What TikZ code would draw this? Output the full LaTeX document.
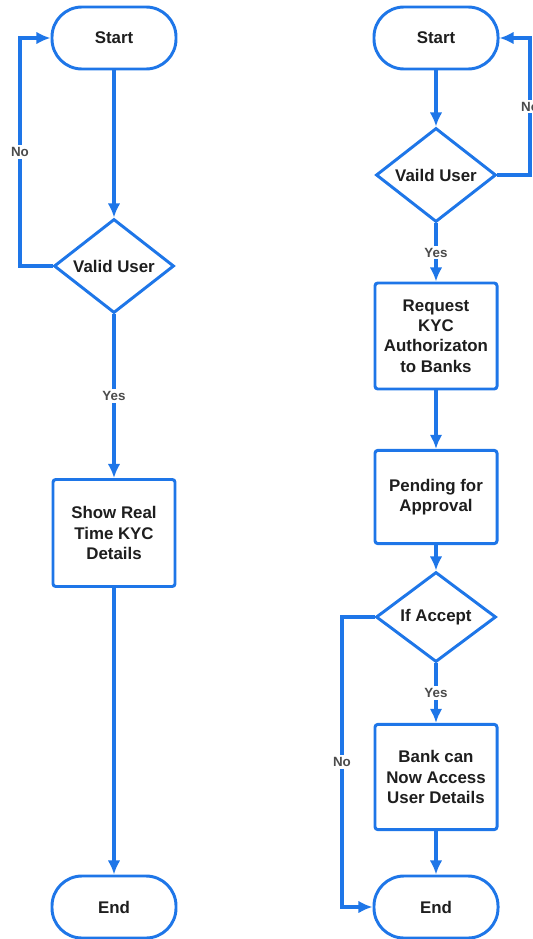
\documentclass[tikz,border=0pt]{standalone}
\usepackage{fontspec}
\setmainfont{Liberation Sans}
\usetikzlibrary{shapes.geometric, arrows.meta}
\definecolor{flowblue}{RGB}{30,118,232}
\definecolor{flowtext}{RGB}{30,30,30}
\begin{document}
\begin{tikzpicture}[x=0.025cm, y=-0.025cm,
    every node/.style={font=\bfseries\fontsize{12}{14.5}\selectfont, text=flowtext, align=center},
    term/.style={draw=flowblue, line width=2.1pt, fill=white, rectangle, rounded corners=7.5mm,
      minimum width=3.1cm, minimum height=1.55cm},
    decide/.style={draw=flowblue, line width=2.1pt, fill=white, diamond, inner sep=0pt,
      minimum width=3cm, minimum height=2.25cm},
    proc/.style={draw=flowblue, line width=2.1pt, fill=white, rectangle, rounded corners=2pt,
      minimum width=3.05cm},
    lbl/.style={font=\bfseries\fontsize{9.5}{11}\selectfont, text=flowtext!80, fill=white, inner sep=1.5pt},
    flow/.style={->, >={Latex[length=10pt, width=9pt]}, draw=flowblue, line width=2.2pt}]
  \useasboundingbox (0,0) rectangle (532,939);

  % first chart
  \node[term] (l_0) at (114,38) {Start};
  \node[decide] (l_1) at (114,266) {Valid User};
  \node[proc, minimum height=2.675cm] (l_2) at (114,533) {Show Real\\Time KYC\\Details};
  \node[term] (l_3) at (114,907) {End};
  \coordinate (l_no) at (20,266);
  \draw[flow] (l_0) -- (l_1);
  \draw[flow] (l_1) -- node[lbl] {Yes} (l_2);
  \draw[flow] (l_2) -- (l_3);
  \draw[flow] (l_1.west) -- (l_no) |- node[lbl, pos=0.25] {No} (l_0.west);

  % second chart
  \node[term] (r_0) at (436,38) {Start};
  \node[decide] (r_1) at (436,175) {Vaild User};
  \node[proc, minimum height=2.65cm] (r_2) at (436,336) {Request\\KYC\\Authorizaton\\to Banks};
  \node[proc, minimum height=2.33cm] (r_3) at (436,497) {Pending for\\Approval};
  \node[decide] (r_4) at (436,617) {If Accept};
  \node[proc, minimum height=2.63cm] (r_5) at (436,777) {Bank can\\Now Access\\User Details};
  \node[term] (r_6) at (436,907) {End};
  \coordinate (r_no1) at (530,175);
  \coordinate (r_no2) at (342,617);
  \draw[flow] (r_0) -- (r_1);
  \draw[flow] (r_1) -- node[lbl] {Yes} (r_2);
  \draw[flow] (r_2) -- (r_3);
  \draw[flow] (r_3) -- (r_4);
  \draw[flow] (r_4) -- node[lbl] {Yes} (r_5);
  \draw[flow] (r_5) -- (r_6);
  \draw[flow] (r_1.east) -- (r_no1) |- node[lbl, pos=0.25] {No} (r_0.east);
  \draw[flow] (r_4.west) -- (r_no2) |- node[lbl, pos=0.25] {No} (r_6.west);
\end{tikzpicture}
\end{document}
